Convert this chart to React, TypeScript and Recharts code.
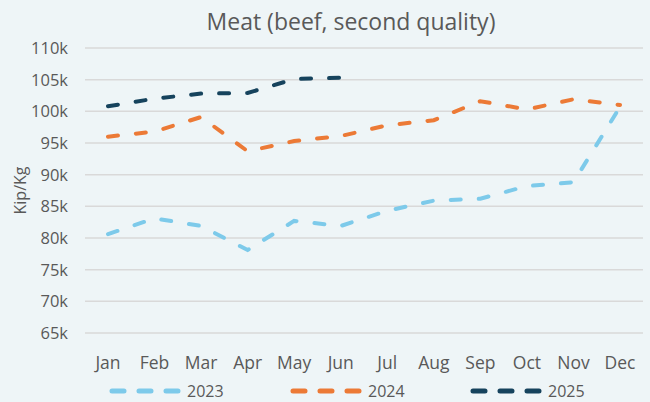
import React from 'react';
import { LineChart, Line, XAxis, YAxis, CartesianGrid } from 'recharts';

const months = ['Jan', 'Feb', 'Mar', 'Apr', 'May', 'Jun', 'Jul', 'Aug', 'Sep', 'Oct', 'Nov', 'Dec'];
const y2023 = [80600, 83100, 81900, 78100, 82700, 81900, 84300, 85900, 86200, 88200, 88800, 100700];
const y2024 = [96000, 96800, 99100, 93700, 95300, 96100, 97800, 98600, 101600, 100300, 101900, 101000];
const y2025 = [100800, 102000, 102800, 102900, 105100, 105300, null, null, null, null, null, null];
const yTicks = [65000, 70000, 75000, 80000, 85000, 90000, 95000, 100000, 105000, 110000];

const series = [
  { key: 'y2023', name: '2023', color: '#7DCAEA' },
  { key: 'y2024', name: '2024', color: '#EC7A36' },
  { key: 'y2025', name: '2025', color: '#16435D' },
];

const data = months.map((m, i) => ({
  name: m,
  y2023: y2023[i],
  y2024: y2024[i],
  y2025: y2025[i],
}));

const FONT = '"Open Sans", sans-serif';
const TEXT = '#595959';

// legend drawn outside the chart so it does not shrink the plot area
const legendLeft = [108, 289, 469];

const App: React.FC = () => {
  return (
    <div
      style={{
        position: 'absolute',
        left: 0,
        top: 0,
        width: 650,
        height: 402,
        background: '#EEF5F7',
        fontFamily: FONT,
      }}
    >
      <div
        style={{
          position: 'absolute',
          top: 6,
          left: 200,
          width: 302,
          textAlign: 'center',
          fontSize: 23,
          lineHeight: '30px',
          color: TEXT,
          whiteSpace: 'nowrap',
        }}
      >
        Meat (beef, second quality)
      </div>
      <LineChart width={650} height={402} data={data} margin={{ top: 48, right: 7, bottom: 39, left: 0 }}>
        <CartesianGrid vertical={false} stroke="#D9D9D9" strokeWidth={1.5} />
        <XAxis
          dataKey="name"
          height={30}
          axisLine={false}
          tickLine={false}
          tickMargin={18}
          padding={{ left: 23, right: 23 }}
          tick={{ fill: TEXT, fontSize: 17.5, fontFamily: FONT }}
          interval={0}
        />
        <YAxis
          width={85}
          domain={[65000, 110000]}
          ticks={yTicks}
          axisLine={false}
          tickLine={false}
          tickSize={0}
          tickMargin={17}
          tickFormatter={(v: number) => `${v / 1000}k`}
          tick={{ fill: TEXT, fontSize: 16.5, fontFamily: FONT }}
          label={{
            value: 'Kip/Kg',
            angle: -90,
            position: 'insideLeft',
            offset: 20,
            style: { textAnchor: 'middle', fill: TEXT, fontSize: 16, fontFamily: FONT },
          }}
        />
        {series.map((s) => (
          <Line
            key={s.key}
            type="linear"
            dataKey={s.key}
            name={s.name}
            stroke={s.color}
            strokeWidth={4}
            strokeLinecap="round"
            strokeDasharray="10 18"
            dot={false}
            activeDot={false}
            isAnimationActive={false}
          />
        ))}
      </LineChart>
      {series.map((s, i) => (
        <div
          key={s.key}
          style={{
            position: 'absolute',
            left: legendLeft[i],
            top: 380,
            height: 22,
            display: 'flex',
            alignItems: 'center',
          }}
        >
          <svg width={76} height={22}>
            <line
              x1={4}
              y1={11}
              x2={72}
              y2={11}
              stroke={s.color}
              strokeWidth={5}
              strokeLinecap="round"
              strokeDasharray="12 15"
            />
          </svg>
          <span style={{ fontSize: 16, color: TEXT, marginLeft: 3 }}>{s.name}</span>
        </div>
      ))}
    </div>
  );
};

export default App;
